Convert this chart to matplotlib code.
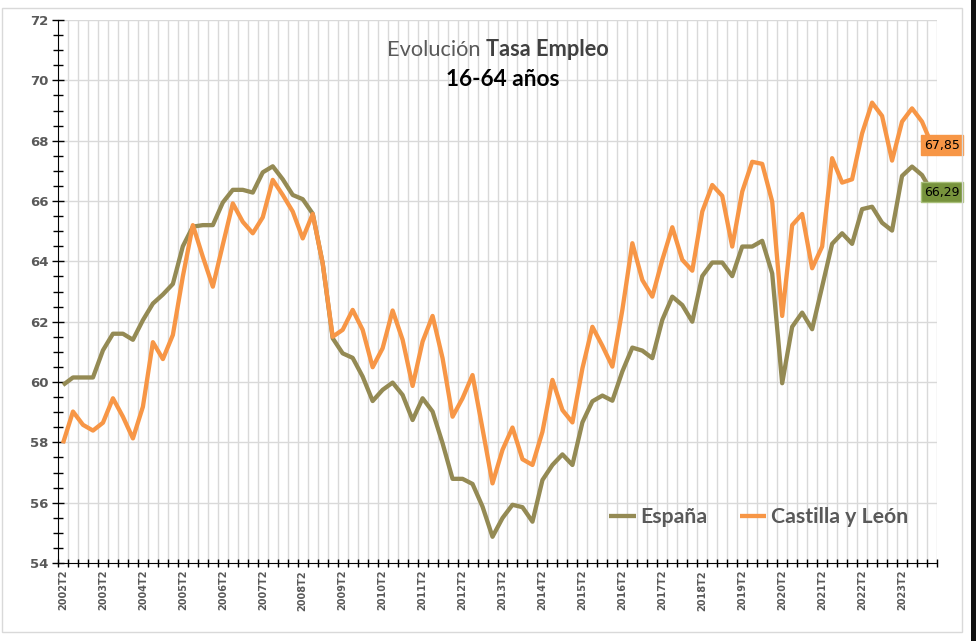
import matplotlib
matplotlib.use("Agg")
import matplotlib.pyplot as plt
from matplotlib.patches import Rectangle
from matplotlib.ticker import MultipleLocator, FixedLocator, NullFormatter

# ---------------- data ----------------
start_year = 2002
start_q = 2
n_points = 88
categories = []
y_, q_ = start_year, start_q
for _ in range(n_points):
    categories.append(f"{y_}T{q_}")
    q_ += 1
    if q_ > 4:
        q_ = 1
        y_ += 1

espana = [59.9, 60.15, 60.15, 60.15, 61.05, 61.6, 61.6, 61.4, 62.05, 62.6,
          62.9, 63.25, 64.5, 65.15, 65.2, 65.2, 65.95, 66.37, 66.37, 66.28,
          66.95, 67.15, 66.72, 66.2, 66.06, 65.58, 63.93, 61.45, 60.95, 60.8,
          60.18, 59.37, 59.74, 59.98, 59.57, 58.74, 59.46, 59.02, 57.97, 56.79,
          56.79, 56.62, 55.87, 54.87, 55.49, 55.93, 55.85, 55.37, 56.75, 57.25,
          57.6, 57.25, 58.66, 59.36, 59.55, 59.38, 60.35, 61.14, 61.04, 60.79,
          62.06, 62.83, 62.55, 62.0, 63.51, 63.96, 63.96, 63.51, 64.49, 64.49,
          64.68, 63.6, 59.96, 61.83, 62.3, 61.75, 63.16, 64.58, 64.93, 64.58,
          65.73, 65.81, 65.28, 65.02, 66.83, 67.14, 66.86, 66.29]

cyl = [57.97, 59.02, 58.58, 58.39, 58.65, 59.46, 58.85, 58.13, 59.18, 61.32,
       60.76, 61.56, 63.5, 65.2, 64.15, 63.16, 64.55, 65.92, 65.31, 64.93,
       65.46, 66.7, 66.2, 65.65, 64.76, 65.57, 63.93, 61.5, 61.73, 62.39,
       61.73, 60.49, 61.12, 62.37, 61.4, 59.87, 61.34, 62.19, 60.79, 58.85,
       59.46, 60.23, 58.45, 56.64, 57.75, 58.49, 57.44, 57.25, 58.35, 60.07,
       59.07, 58.66, 60.45, 61.83, 61.2, 60.51, 62.39, 64.6, 63.38, 62.83,
       64.05, 65.13, 64.05, 63.69, 65.65, 66.53, 66.17, 64.49, 66.31, 67.3,
       67.23, 65.98, 62.19, 65.2, 65.57, 63.77, 64.49, 67.42, 66.61, 66.72,
       68.24, 69.26, 68.82, 67.34, 68.63, 69.07, 68.63, 67.85]

series_names = ["España", "Castilla y León"]
title_plain = "Evolución "
title_bold = "Tasa Empleo"
subtitle = "16-64 años"
label_espana = "66,29"
label_cyl = "67,85"

# ---------------- style ----------------
C_ESP = "#948A54"
C_CYL = "#F79646"
C_ESP_BOX = "#77933C"
GRID = "#D9D9D9"
TXT = "#595959"

W, H = 976, 641
fig = plt.figure(figsize=(W / 100, H / 100), dpi=100)
fig.patch.set_facecolor("white")

# chart-area border and dark strip on the right
fig.patches.append(Rectangle((2 / W, 1 - 632 / H), 960 / W, 624 / H, transform=fig.transFigure,
                             fill=False, edgecolor=GRID, lw=1.0))
fig.patches.append(Rectangle((971 / W, 0), 5 / W, 1, transform=fig.transFigure,
                             facecolor="#111111", edgecolor="none"))

left, right, top, bottom = 58, 937, 20, 563
ax = fig.add_axes([left / W, 1 - bottom / H, (right - left) / W, (bottom - top) / H])

x = list(range(n_points))
ax.plot(x, espana, color=C_ESP, lw=3.1, solid_joinstyle="round", solid_capstyle="butt",
        label=series_names[0], zorder=3)
ax.plot(x, cyl, color=C_CYL, lw=3.1, solid_joinstyle="round", solid_capstyle="butt",
        label=series_names[1], zorder=4)

ax.set_xlim(-0.5, n_points - 0.5)
ax.set_ylim(54, 72)

# y axis
ax.yaxis.set_major_locator(MultipleLocator(2))
ax.yaxis.set_minor_locator(MultipleLocator(0.5))
ax.tick_params(axis="y", which="major", direction="inout", length=8, width=1, color="black",
               labelsize=9.5, labelcolor=TXT, pad=3)
ax.tick_params(axis="y", which="minor", direction="inout", length=7, width=1, color="black")
for t in ax.get_yticklabels():
    t.set_fontweight("bold")
    t.set_family("DejaVu Sans")

# x axis: boundaries as ticks / gridlines, labels every 4 categories
bounds = [i - 0.5 for i in range(n_points + 1)]
ax.xaxis.set_minor_locator(FixedLocator(bounds))
ax.xaxis.set_minor_formatter(NullFormatter())
lab_pos = list(range(0, n_points, 4))
ax.xaxis.set_major_locator(FixedLocator(lab_pos))
ax.set_xticklabels([categories[i] for i in lab_pos], rotation=90, fontsize=7,
                   fontweight="bold", color=TXT, family="DejaVu Sans")
ax.tick_params(axis="x", which="major", length=0, pad=5)
ax.tick_params(axis="x", which="minor", direction="inout", length=6, width=1, color="black")

ax.grid(False)
ax.set_axisbelow(True)
for b in bounds[1:]:
    ax.axvline(b, color=GRID, lw=1.0, zorder=0)
for yv in range(56, 73, 2):
    ax.axhline(yv, color=GRID, lw=1.0, zorder=0)

for s in ["top", "right"]:
    ax.spines[s].set_visible(False)
ax.spines["left"].set_color("black")
ax.spines["bottom"].set_color("black")
ax.spines["left"].set_zorder(5)
ax.spines["bottom"].set_zorder(5)

# data labels for last points
ax.annotate(label_cyl, (x[-1], cyl[-1]), xytext=(10, 0), textcoords="offset pixels",
            ha="center", va="center", fontsize=9, color="black", family="DejaVu Sans",
            bbox=dict(boxstyle="square,pad=0.28", facecolor=C_CYL, edgecolor=C_CYL), zorder=6,
            annotation_clip=False)
ax.annotate(label_espana, (x[-1], espana[-1]), xytext=(10, 0), textcoords="offset pixels",
            ha="center", va="center", fontsize=9, color="black", family="DejaVu Sans",
            bbox=dict(boxstyle="square,pad=0.28", facecolor=C_ESP_BOX, edgecolor="#A9C07A"), zorder=6,
            annotation_clip=False)

# legend
leg = ax.legend(loc="center left", bbox_to_anchor=(609 / W, 1 - 517 / H),
                bbox_transform=fig.transFigure, ncol=2, frameon=False,
                handlelength=1.25, handletextpad=0.24, columnspacing=1.5,
                borderpad=0, borderaxespad=0,
                prop=dict(family="Lato", weight="bold", size=15.3))
for t in leg.get_texts():
    t.set_color(TXT)
for h in leg.legend_handles:
    h.set_linewidth(3.1)

# title (two styles on one line)
fig.canvas.draw()
r = fig.canvas.get_renderer()
t1 = fig.text(0, 1 - 50 / H, title_plain, fontsize=15.7, color=TXT, family="Lato",
              ha="left", va="center")
t2 = fig.text(0, 1 - 50 / H, title_bold, fontsize=15.7, color="#404040", family="Lato",
              fontweight="bold", ha="left", va="center")
w1 = t1.get_window_extent(r).width
w2 = t2.get_window_extent(r).width
x0 = 497.5 - (w1 + w2) / 2
t1.set_x(x0 / W)
t2.set_x((x0 + w1) / W)
fig.text(503 / W, 1 - 79 / H, subtitle, fontsize=16.3, color="black", family="Lato",
         fontweight="bold", ha="center", va="center")

fig.savefig("out.png", dpi=100, facecolor="white")
